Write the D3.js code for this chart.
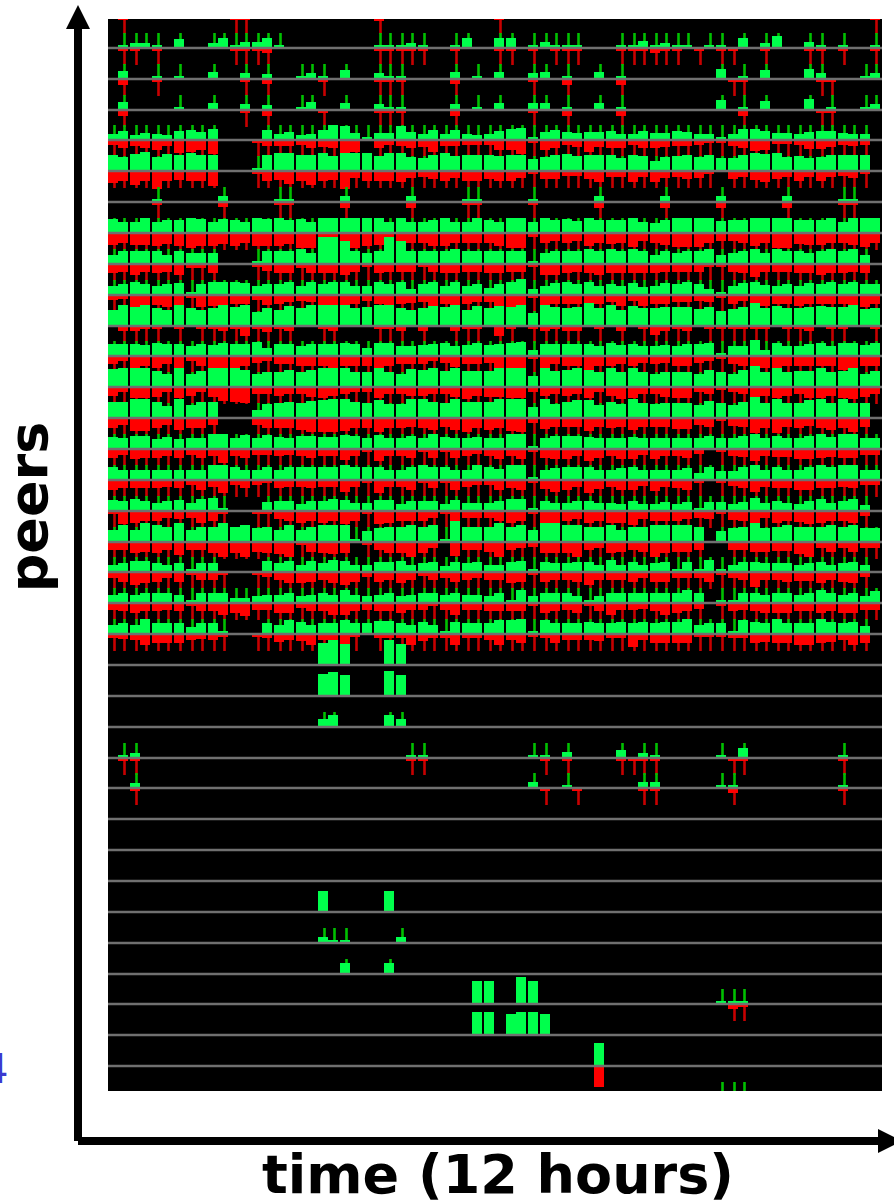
<!DOCTYPE html>
<html>
<head>
<meta charset="utf-8">
<script src="https://cdn.jsdelivr.net/npm/d3@7"></script>
<style>
  html, body { margin: 0; background: #fff; overflow: hidden; }
  svg { display: block; }
  text { font-family: "DejaVu Sans", sans-serif; }
</style>
</head>
<body>
<svg id="chart" width="894" height="1202"></svg>
<script>
'use strict';

// measurement bursts: how many samples each one holds
var blockSizes = [2,2,2,1, 2,2,2,2,2,2,2,2, 1, 2,2,2,2,2,2,2, 1, 2,2,2,2,2,2,2,2, 1, 2,2,2,2,2,2,2];

// one string per peer, one base-36 character per sample:
// '.' no traffic, '0' traffic too small to read, otherwise the average level
var greenRows = [
  "",
  ".0 55 0. 9 .. 5a 06 6a 0. .. .. .. . 00 05 0. .0 a. .a a. 0 60 00 .. .0 07 05 00 .0 0 .a .5 c. .6 0. 0. .0",
  ".8 .. 0. 0 .. 7. .6 .5 .. 06 0. 9. . 60 0. .. .7 .0 .7 .. 6 7. 0. .7 .0 .. .. .. .. a .0 .9 .. .a 6. .. 06",
  ".8 .. .. 0 .. 7. .6 .5 .. 08 .. 7. . 60 0. .. .6 .0 .7 .. 7 7. 0. .7 .0 .. .. .. .. a .0 .9 .. .b .0 .. 06",
  "69 57 65 9 a8 b. .. .a 68 56 af e7 0 77 e8 6a 6a 65 69 bc 0 8a 87 88 96 69 77 98 66 0 6b b9 77 68 99 76 6.",
  "ge hj eh g ig g. .. 0g ii gg if ii i fi ie dg if gg gf gg c eg hf gg gd gf ae fg eg d dg ih ie fd eg gg g.",
  ".. .. 0. . .. .6 .. .. 00 .. .. 6. . .. .6 .. .. 00 .. .. 0 .. .. .6 .. .. .6 .. .. 6 .. .. .6 .. .. 00 ..",
  "eb bf bd d fe be db fe fd eb ff ff f fb fb bd fb bf db ff b fd ec fd dd fb ad ff ff c dd ff ff dd df bf ff",
  "9d dd d9 d bb b. .. 0d dd fb rr nd b dr nd dd df dd dd dd 0 bd dd fd fd fd 9d bd df 9 bd fb fd db df df 9.",
  "9b db 9b c 0b dd dc 9b bd 9d bd d9 9 db d6 bd 9d 9b 7b dg 6 9c db d9 b9 c8 9c bd b6 0 9c da 9b 9c bd bd bb",
  "gl jl ig l ig il jl ei gk il ll li j ll ig ik jl gk ik jl d lj ij ni lg ki ij jj hj f hj ni ki ij kj jl hi",
  "cc cb dc c ac bd cc e8 cc ac cc dc 8 dd aa bc da bd bc de 6 cc cc ca db ca ab ac cd 0 aa g6 da ac da dd bd",
  "ij jj gd j dg jj jh df fh fh jj jf f jf di hj gj gg gj jj b jg hj hf jf jf df ff dh f dh lf jf gg jf gj dg",
  "gg jj gc j dg g. .. 8e fg fh ij jg f ie ej jg fj gg gj jj b je gi id ge jf ef ff dh f dg lf jf fi jf jf f.",
  "cb dd ac a bb ff be be cb dd cc ed b eb bd bf cb bc bb ff 0 bd dd cb bb cb bb bb bd b bd fb db bd fc ff bb",
  "da aa aa a aa ff da ad ad dd dd fd d da ad fd da af db ff 0 ac dd da ac da aa ac 7d 9 9d fa da ad fd ff aa",
  "ba ca 8a b 8c d0 .. .9 aa 7a ac b8 8 bb 7a aa 7b 88 8a cc 0 a8 8a a8 87 a7 79 79 39 9 79 d8 a8 7a c8 ac 6.",
  "ch cj hf j cf fj fh ef ch cf hh h0 b ef fh fh 0l ff fj fh c jj hh ff hc ff hh hh f. b ef je fh ff fh fh ee",
  "79 bb 97 9 09 9. .. .b 9b 7b 9c b7 7 aa b7 9a 6a 9a 77 ab 0 a9 9a a7 c7 a7 9a 0a 0c 0 7a a9 99 79 a7 9a 7.",
  "8a 8a aa 8 0a aa 55 78 8a 78 a8 d8 7 8a 78 aa 8a 88 7a 0d 7 aa a7 07 aa aa aa ad a. 0 0a a8 aa 8a da 8a 7c",
  "9b 9f bb b 7b b0 .. .b 9e c9 bb eb b dd b9 c9 2c bb be ef 0 eb bb cb bc bc bc cf 9b b 0e cb fb bb fc bc 8.",
  ".. .. .. . .. .. .. .. .. .. mp l. . .p l. .. .. .. .. .. . .. .. .. .. .. .. .. .. . .. .. .. .. .. .. ..",
  ".. .. .. . .. .. .. .. .. .. mo l. . .p l. .. .. .. .. .. . .. .. .. .. .. .. .. .. . .. .. .. .. .. .. ..",
  ".. .. .. . .. .. .. .. .. .. 8c .. . .c 8. .. .. .. .. .. . .. .. .. .. .. .. .. .. . .. .. .. .. .. .. ..",
  ".0 5. .. . .. .. .. .. .. .. .. .. . .. .0 0. .. .. .. .. 0 0. 6. .. .8 .5 0. .. .. 0 .a .. .. .. .. 0. ..",
  ".. 5. .. . .. .. .. .. .. .. .. .. . .. .. .. .. .. .. .. 6 .. 0. .. .. .6 6. .. .. 0 0. .. .. .. .. 0. ..",
  "",
  "",
  "",
  ".. .. .. . .. .. .. .. .. .. l. .. . .l .. .. .. .. .. .. . .. .. .. .. .. .. .. .. . .. .. .. .. .. .. ..",
  ".. .. .. . .. .. .. .. .. .. 60 0. . .. 6. .. .. .. .. .. . .. .. .. .. .. .. .. .. . .. .. .. .. .. .. ..",
  ".. .. .. . .. .. .. .. .. .. .. b. . .b .. .. .. .. .. .. . .. .. .. .. .. .. .. .. . .. .. .. .. .. .. ..",
  ".. .. .. . .. .. .. .. .. .. .. .. . .. .. .. .. .n n. .r n .. .. .. .. .. .. .. .. 0 00 .. .. .. .. .. ..",
  ".. .. .. . .. .. .. .. .. .. .. .. . .. .. .. .. .n n. ln n l. .. .. .. .. .. .. .. . .. .. .. .. .. .. ..",
  ".. .. .. . .. .. .. .. .. .. .. .. . .. .. .. .. .. .. .. . .. .. .n .. .. .. .. .. . .. .. .. .. .. .. ..",
  ".. .. .. . .. .. .. .. .. .. .. .. . .. .. .. .. .. .. .. . .. .. .. .. .. .. .. .. 0 00 .. .. .. .. .. .."
];

var redRows = [
  ".0 .. .. . .. .. 00 .. .. .. .. .. . 4. .. .. .. .. .0 .. . .. .. .. .. .. .. .. .. . .. .. .. .. .. .. .0",
  ".0 0. 0. . .. .. 00 05 .. .. .. .. . 00 00 0. .0 .. .0 0. 0 .0 00 .. .0 00 50 0. 0. 0 0. .0 .. .0 0. 0. .0",
  ".6 .. 0. . .. .. .0 .5 .. .. 0. .. . 00 0. .. .5 .. .. .. 0 .. 6. .. .6 .. .. .. .. . 00 .. .. .. 00 .. ..",
  ".6 .. .. . .. .. .0 .6 .. .. 0. .. . 00 0. .. .6 .. .. .. 0 .. 6. .. .6 .. .. .. .. . .6 .. .. .. 00 .. ..",
  "58 68 a6 d ca e. .. 06 66 58 78 dc . 85 68 7c 66 55 5a ae 0 a8 57 c7 88 58 87 66 52 0 68 ba 44 59 97 56 5.",
  "ca ea ia 9 aa f. .. 0a 9d ae a9 i7 a aa b7 68 a7 aa 8a a7 0 88 55 8b 66 b6 b7 68 73 . 86 9b 86 a6 a6 57 3.",
  ".. .. 0. . .. .5 .. .. 00 .. .. 6. . .. .6 .. .. 00 .. .. 0 .. .. .6 .. .. .6 .. .. 6 .. .. .6 .. .. 00 ..",
  "ca cc db d fd db da dd db ff dd df d ca da ad da aa ad ff 4 a8 a8 da ba e8 ac ee ea 8 8a da ff bc ca ac ea",
  "98 b8 98 b 44 9. .. 07 99 49 99 b8 2 98 88 28 99 88 99 88 0 bb 98 9b 99 99 98 88 83 0 89 d8 88 99 b9 98 9.",
  "54 cb ac a 0c bb 99 5a 97 67 bb b9 6 9a 98 7b 9c 97 7c ca 0 b9 99 99 7b 6b 99 77 67 0 96 9b 99 b9 99 9b c9",
  ".5 52 2. 2 .2 25 2a 26 25 .. 25 .. . 22 5. 5. .5 22 .a 2. 2 52 55 .2 .5 .2 95 25 .2 2 22 22 .2 25 .2 2. .2",
  "85 ca c8 c 5a dd ca 75 88 aa ae aa a da 88 85 7b 88 7c ee 2 c8 aa ea a8 a7 87 aa 75 0 8a cc ea aa aa ec aa",
  "95 bb a5 b 95 ae fg 77 97 7a b9 75 5 b7 79 97 7a c9 aa bb 5 97 97 b5 9c b7 7a bb 57 0 57 b9 b9 7b b9 bc a7",
  "a7 dd a7 c aa 7. .. 7a aa ce ee da a ea a9 ac 9c ea ca de 5 b9 99 d9 a9 c9 99 bb 79 0 89 fa f9 a8 ac ae 9.",
  "96 a9 97 9 69 7e 79 66 76 79 77 b7 3 c7 79 39 39 75 7a 7a 0 9a a7 c9 7a a6 a7 79 5. 3 78 c7 88 aa 98 99 66",
  "a8 88 87 8 5a 7d 58 53 87 78 77 c7 2 d7 7a 28 2a 75 5a 8a 0 9c a7 d9 7a a6 b7 8a 3. 2 68 c7 88 aa 88 78 55",
  "2d ca a7 8 7c a0 .. 00 8a ca ca da 3 dc aa a7 3c 77 7a ca 0 cc a8 ca cc e8 aa a8 78 0 9a d7 ca bd ca ac 5.",
  "88 ba b8 d 88 bf bf ab cf 2a bc b. 0 8b bf b6 .e 88 af 86 5 bb bf 86 ba 8a fb aa 8. . 88 aa 99 cf 6a 6a 66",
  "6a db a6 a 08 80 .. 05 8b ba 8b da 5 a8 b8 48 6a 86 88 ba 0 a8 8a d8 88 a6 aa 66 6a 0 68 f8 8a 99 b8 ab 5.",
  "78 a8 87 8 08 8c ad 77 aa 58 8c c8 7 88 a7 73 7c 77 88 88 0 a8 7a 08 c7 76 8c a8 6. 0 87 8a aa 88 a8 aa 77",
  "45 6b 99 9 65 60 .. 04 86 7b 6b b3 . 44 4b 74 4b 44 6b 69 0 49 66 67 44 d6 99 99 30 0 44 98 99 bb 98 6b 9.",
  "",
  "",
  "",
  ".0 0. .. . .. .. .. .. .. .. .. .. . .. .0 0. .. .. .. .. . 0. 0. .. .0 00 0. .. .. . 00 .. .. .. .. 0. ..",
  ".. 0. .. . .. .. .. .. .. .. .. .. . .. .. .. .. .. .. .. . 0. .0 .. .. .0 0. .. .. . 5. .. .. .. .. 0. ..",
  "",
  "",
  "",
  "",
  "",
  "",
  ".. .. .. . .. .. .. .. .. .. .. .. . .. .. .. .. .. .. .. . .. .. .. .. .. .. .. .. . 50 .. .. .. .. .. ..",
  "",
  ".. .. .. . .. .. .. .. .. .. .. .. . .. .. .. .. .. .. .. . .. .. .l .. .. .. .. .. . .. .. .. .. .. .. ..",
  ""
];

// peers run from just above the frame to just below it, both partly clipped
var peers = d3.range(-1, 35);

// every active sample also reaches this peak, drawn as a thin whisker
var greenPeak = 15;
var redPeak = 17;

var xLabel = 'time (12 hours)';
var yLabel = 'peers';
var strayLabel = '4';

var plot = { left: 108, right: 882, top: 19, bottom: 1091 };
var gapShare = 0.2;
var colors = {
  green: '#00ff4c', red: '#ff0000',
  greenPeak: '#00c000', redPeak: '#c80000',
  rule: '#707070'
};

function parseRow(str) {
  var chars = str.replace(/ /g, '');
  return chars.split('').map(function(c) {
    return c === '.' ? null : parseInt(c, 36);
  });
}

// slot positions on the time axis, with a small gap after each burst
var slotPos = [];
blockSizes.forEach(function(n, b) {
  d3.range(n).forEach(function() {
    slotPos.push(slotPos.length + b * gapShare);
  });
});

var xScale = d3.scaleLinear()
  .domain([0, slotPos.length + (blockSizes.length - 1) * gapShare])
  .range([108, 880]);
var yScale = d3.scalePoint().domain(peers).range([17, 1097]);
var levelScale = d3.scaleLinear().domain([0, 27]).range([0, 27]);

function rowY(peer) { return Math.round(yScale(peer)); }
function barH(v) { return Math.max(levelScale(v), 3); }

var svg = d3.select('#chart');

svg.append('defs').append('clipPath').attr('id', 'frame')
  .append('rect')
  .attr('x', plot.left).attr('y', plot.top)
  .attr('width', plot.right - plot.left).attr('height', plot.bottom - plot.top);

svg.append('rect')
  .attr('x', plot.left).attr('y', plot.top)
  .attr('width', plot.right - plot.left).attr('height', plot.bottom - plot.top)
  .attr('fill', '#000');

var rows = svg.append('g')
  .attr('clip-path', 'url(#frame)')
  .style('filter', 'blur(0.35px)')
  .selectAll('g.peer')
  .data(peers)
  .join('g')
  .attr('class', 'peer');

function sideData(list) {
  return function(d, i) {
    var vals = parseRow(list[i] || '');
    if (vals.length && vals.length !== slotPos.length) {
      throw new Error('row ' + i + ' has ' + vals.length + ' samples');
    }
    return vals
      .map(function(v, s) { return { v: v, s: s, peer: d }; })
      .filter(function(o) { return o.v !== null; });
  };
}

function slotX(o) { return xScale(slotPos[o.s]); }
function peakX(o) { return xScale(slotPos[o.s] + 0.5) + 1.5; }

// whiskers first, then the averages over them, then the peer's rule
rows.selectAll('line.red-peak')
  .data(sideData(redRows))
  .join('line')
  .attr('class', 'red-peak')
  .attr('x1', peakX).attr('x2', peakX)
  .attr('y1', function(o) { return rowY(o.peer); })
  .attr('y2', function(o) { return rowY(o.peer) + levelScale(redPeak); })
  .attr('stroke', colors.redPeak)
  .attr('stroke-width', 2.6);

rows.selectAll('line.green-peak')
  .data(sideData(greenRows))
  .join('line')
  .attr('class', 'green-peak')
  .attr('x1', peakX).attr('x2', peakX)
  .attr('y1', function(o) { return rowY(o.peer); })
  .attr('y2', function(o) { return rowY(o.peer) - levelScale(greenPeak); })
  .attr('stroke', colors.greenPeak)
  .attr('stroke-width', 2.6);

rows.selectAll('rect.red')
  .data(sideData(redRows))
  .join('rect')
  .attr('class', 'red')
  .attr('x', slotX)
  .attr('y', function(o) { return rowY(o.peer); })
  .attr('width', xScale(1) - xScale(0))
  .attr('height', function(o) { return barH(o.v); })
  .attr('fill', colors.red);

rows.selectAll('rect.green')
  .data(sideData(greenRows))
  .join('rect')
  .attr('class', 'green')
  .attr('x', slotX)
  .attr('y', function(o) { return rowY(o.peer) - barH(o.v); })
  .attr('width', xScale(1) - xScale(0))
  .attr('height', function(o) { return barH(o.v); })
  .attr('fill', colors.green);

rows.append('line')
  .attr('x1', plot.left).attr('x2', plot.right)
  .attr('y1', rowY).attr('y2', rowY)
  .attr('stroke', colors.rule)
  .attr('stroke-width', 2.5);

// axes are plain arrows, no ticks
var axisLine = d3.line();
svg.append('path')
  .attr('d', axisLine([[78, 28], [78, 1141]]))
  .attr('stroke', '#000').attr('stroke-width', 8).attr('fill', 'none');
svg.append('path')
  .attr('d', axisLine([[78, 1141], [894, 1141]]))
  .attr('stroke', '#000').attr('stroke-width', 8).attr('fill', 'none');
svg.append('path')
  .attr('d', axisLine([[78, 5], [90, 29], [66, 29]]) + 'Z')
  .attr('fill', '#000');
svg.append('path')
  .attr('d', axisLine([[878, 1129], [902, 1141], [878, 1153]]) + 'Z')
  .attr('fill', '#000');

svg.append('text')
  .attr('x', 498).attr('y', 1193)
  .attr('text-anchor', 'middle')
  .attr('font-size', 54).attr('font-weight', 'bold')
  .text(xLabel);

svg.append('text')
  .attr('transform', 'translate(47,507) rotate(-90)')
  .attr('text-anchor', 'middle')
  .attr('font-size', 54).attr('font-weight', 'bold')
  .text(yLabel);

svg.append('text')
  .attr('x', 8.5).attr('y', 1083)
  .attr('text-anchor', 'end')
  .attr('font-size', 41)
  .attr('fill', '#3a3ad0')
  .text(strayLabel);
</script>
</body>
</html>
